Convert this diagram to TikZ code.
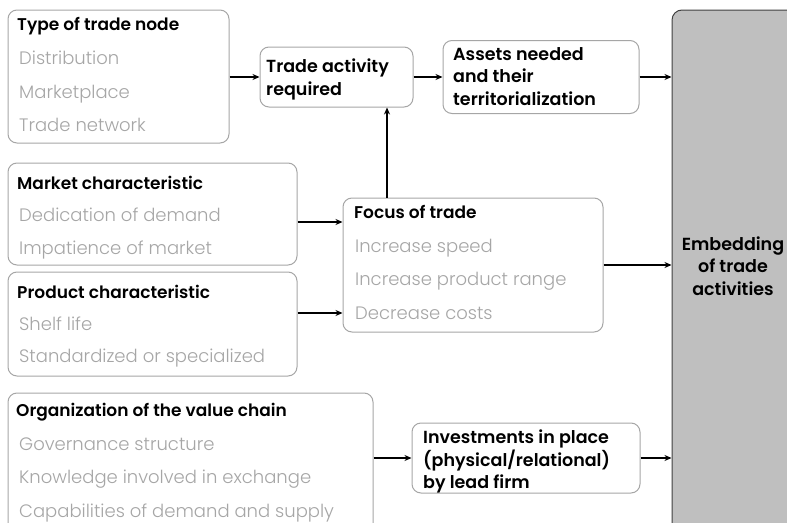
\documentclass[tikz,border=0pt]{standalone}
\usepackage{fontspec}
\setmainfont{Poppins}[UprightFont={* Light}, BoldFont={* SemiBold}]
\usetikzlibrary{arrows.meta}
\definecolor{lgray}{HTML}{A6A6A6}
\definecolor{bgray}{HTML}{BFBFBF}
\definecolor{dgray}{HTML}{404040}
\tikzset{
  gbox/.style={draw=lgray, line width=1pt, rounded corners=9pt, fill=white, inner sep=0pt},
  bigbox/.style={draw=dgray, line width=1pt, rounded corners=10pt, fill=bgray, inner sep=0pt},
  ttl/.style={anchor=base west, inner sep=0pt, font=\fontsize{17}{20}\selectfont\bfseries},
  itm/.style={anchor=base west, inner sep=0pt, text=lgray, font=\fontsize{18}{20}\selectfont},
  blk/.style={anchor=north west, inner sep=0pt, align=left, font=\fontsize{17.5}{22.5}\selectfont\bfseries},
  arr/.style={line width=1.5pt, -{Stealth[length=7pt,width=6pt]}}
}
\begin{document}
\begin{tikzpicture}[x=1pt,y=-1pt]
\useasboundingbox (0,0) rectangle (787,522);
\clip (0,0) rectangle (787,522);
% boxes
\node[gbox, minimum width=221, minimum height=133] (tn) at (118.5,76.5) {};
\node[gbox, minimum width=153, minimum height=60] (ta) at (336.5,77) {};
\node[gbox, minimum width=196, minimum height=73] (as) at (541,77) {};
\node[gbox, minimum width=289, minimum height=102] (mc) at (152.5,214) {};
\node[gbox, minimum width=289, minimum height=104] (pc) at (152.5,324) {};
\node[gbox, minimum width=260, minimum height=134] (fo) at (473,265) {};
\node[gbox, minimum width=365, minimum height=142] (oc) at (190.5,464) {};
\node[gbox, minimum width=228, minimum height=70] (iv) at (526,458) {};
\node[bigbox, minimum width=128, minimum height=530] (emb) at (736,275) {};
% texts
\node[ttl] (tn0) at (17,30) {Type of trade node};
\node[itm] (tn1) at (19,64) {Distribution};
\node[itm] (tn2) at (19,98) {Marketplace};
\node[itm] (tn3) at (19,131) {Trade network};

\node[ttl] (mc0) at (17,189) {Market characteristic};
\node[itm] (mc1) at (19,221) {Dedication of demand};
\node[itm] (mc2) at (19,254) {Impatience of market};

\node[ttl] (pc0) at (17,298) {Product characteristic};
\node[itm] (pc1) at (19,330) {Shelf life};
\node[itm] (pc2) at (19,362) {Standardized or specialized};

\node[ttl] (fo0) at (354,218) {Focus of trade};
\node[itm] (fo1) at (355,252) {Increase speed};
\node[itm] (fo2) at (355,285) {Increase product range};
\node[itm] (fo3) at (355,319) {Decrease costs};

\node[ttl] (oc0) at (16,416) {Organization of the value chain};
\node[itm] (oc1) at (19,450) {Governance structure};
\node[itm] (oc2) at (19,483) {Knowledge involved in exchange};
\node[itm] (oc3) at (19,517) {Capabilities of demand and supply};

\node[blk] (tat) at (266,59) {Trade activity\\required};
\node[blk] (ast) at (453,47) {Assets needed\\and their\\territorialization};
\node[blk] (ivt) at (423,430) {Investments in place\\(physical/relational)\\by lead firm};
\node[blk, anchor=center, align=center] (embt) at (733,266) {Embedding\\of trade\\activities};
% connectors
\coordinate (vx) at (387,0);
\draw[arr] (tn.east |- ta.west) -- (ta.west);
\draw[arr] (ta.east) -- (as.west |- ta.east);
\draw[arr] (as.east) -- (emb.west |- as.east);
\draw[arr] (vx |- fo.north) -- (vx |- ta.south);
\draw[arr] (mc.east |- 0,222) -- (fo.west |- 0,222);
\draw[arr] (pc.east |- 0,313) -- (fo.west |- 0,313);
\draw[arr] (fo.east) -- (emb.west |- fo.east);
\draw[arr] (oc.east |- iv.west) -- (iv.west);
\draw[arr] (iv.east) -- (emb.west |- iv.east);
\end{tikzpicture}
\end{document}
